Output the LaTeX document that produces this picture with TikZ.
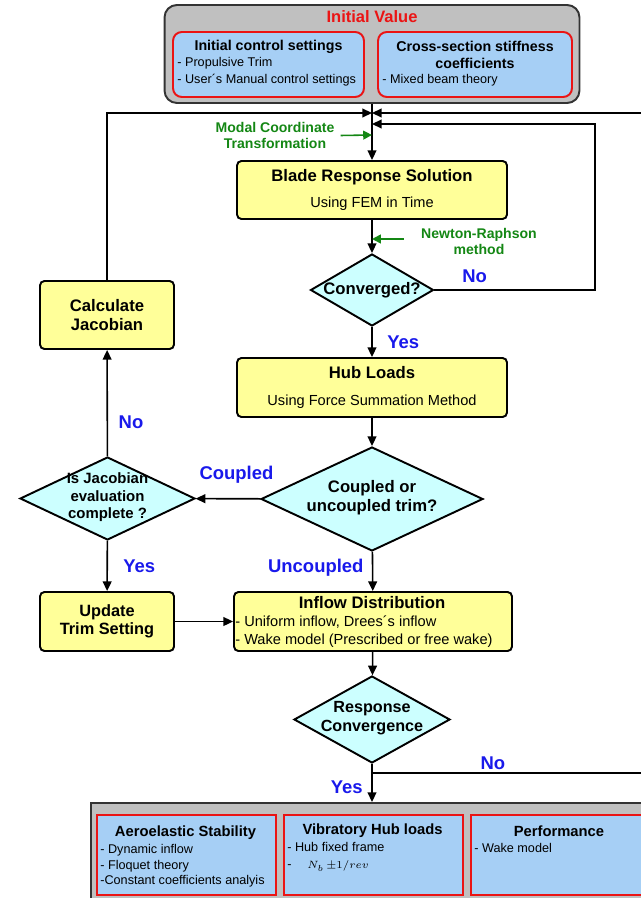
\documentclass[tikz,border=0pt]{standalone}
\usepackage{fontspec}
\setmainfont{Liberation Sans}
\usetikzlibrary{shapes.geometric,arrows.meta}

\definecolor{procyellow}{RGB}{255,255,153}
\definecolor{testcyan}{RGB}{204,255,255}
\definecolor{panelgrey}{RGB}{192,192,192}
\definecolor{itemblue}{RGB}{166,207,245}
\definecolor{framered}{RGB}{235,20,20}
\definecolor{notegreen}{RGB}{20,135,20}
\definecolor{answerblue}{RGB}{25,25,235}

\newcommand{\titlefont}{\bfseries\fontsize{9.5}{11}\selectfont}
\newcommand{\subfont}{\fontsize{8.3}{10}\selectfont}

\begin{document}
\begin{tikzpicture}[x=0.02cm,y=-0.02cm]
    \tikzstyle{process}=[draw=black,line width=1.1pt,fill=procyellow,rounded corners=2.5pt,align=center,inner sep=0pt]
    \tikzstyle{decision}=[draw=black,line width=1.1pt,fill=testcyan,shape=diamond,inner sep=0pt]
    \tikzstyle{panel}=[draw=black!80,line width=1.1pt,fill=panelgrey]
    \tikzstyle{group}=[draw=framered,line width=1.1pt,fill=itemblue]
    \tikzstyle{head}=[font=\titlefont,align=center,inner sep=0pt]
    \tikzstyle{subhead}=[font=\bfseries\fontsize{8.1}{9.6}\selectfont,align=center,inner sep=0pt]
    \tikzstyle{items}=[font=\fontsize{7.2}{9.6}\selectfont,align=left,anchor=west,inner sep=0pt]
    \tikzstyle{answer}=[font=\bfseries\fontsize{10.5}{12}\selectfont,text=answerblue]
    \tikzstyle{note}=[font=\bfseries\fontsize{8}{9.6}\selectfont,text=notegreen,align=center]
    \tikzstyle{flow}=[line width=0.9pt,-{Triangle[length=5.5pt,width=5pt]}]
    \tikzstyle{noteline}=[line width=0.9pt,draw=notegreen,-{Triangle[length=5pt,width=5pt]}]

    \useasboundingbox (0,0) rectangle (641,898);
    \clip (0,0) rectangle (641,898);

    % initial values
    \node[panel,rounded corners=7pt,minimum width=8.3cm,minimum height=1.96cm] at (372,54) (init) {};
    \node[font=\bfseries\fontsize{9.4}{11}\selectfont,text=framered] at (372,17) (inittitle) {Initial Value};
    \node[group,rounded corners=5pt,minimum width=3.82cm,minimum height=1.3cm] at (268.5,64.5) (ctrl) {};
    \node[group,rounded corners=5pt,minimum width=3.88cm,minimum height=1.3cm] at (475,64.5) (stiff) {};
    \node[subhead] at (268.5,47) (ctrltitle) {Initial control settings};
    \node[items] at (177,71.5) (ctrlitems) {- Propulsive Trim\\- User´s Manual control settings};
    \node[subhead] at (475,54.5) (stifftitle) {Cross-section stiffness\\coefficients};
    \node[items] at (382,80) (stiffitems) {- Mixed beam theory};

    % main loop
    \node[process,minimum width=5.4cm,minimum height=1.16cm,font=\subfont] at (372,190) (blade) {{\titlefont Blade Response Solution}\\[5pt]Using FEM in Time};
    \node[decision,minimum width=2.46cm,minimum height=1.44cm] at (372,290) (conv) {};
    \node[head] at (372,290) (convtext) {Converged?};
    \node[process,minimum width=5.4cm,minimum height=1.18cm,font=\subfont] at (372,387.5) (hub) {{\titlefont Hub Loads}\\[5pt]Using Force Summation Method};
    \node[decision,minimum width=4.44cm,minimum height=2.08cm] at (372,499) (trim) {};
    \node[head] at (372,498) (trimtext) {Coupled or\\uncoupled trim?};
    \node[decision,minimum width=3.5cm,minimum height=1.66cm] at (107.5,498.5) (jac) {};
    \node[head,font=\bfseries\fontsize{8.5}{9.9}\selectfont] at (107.5,497.5) (jactext) {Is Jacobian\\evaluation\\complete ?};
    \node[process,minimum width=2.68cm,minimum height=1.36cm,font=\titlefont] at (107,315) (calc) {Calculate\\Jacobian};
    \node[process,minimum width=2.68cm,minimum height=1.18cm,font=\bfseries\fontsize{9.3}{10.3}\selectfont] at (107,621.5) (update) {Update\\Trim Setting};
    \node[process,minimum width=5.56cm,minimum height=1.18cm] at (373,621.5) (inflow) {};
    \node[head] at (372,603) (inflowtitle) {Inflow Distribution};
    \node[items,font=\fontsize{8.3}{10.2}\selectfont] at (235,632) (inflowitems) {- Uniform inflow, Drees´s inflow\\- Wake model (Prescribed or free wake)};
    \node[decision,minimum width=3.12cm,minimum height=1.74cm] at (372,719.5) (resp) {};
    \node[head,font=\bfseries\fontsize{9.2}{10.8}\selectfont] at (372,718.5) (resptext) {Response\\Convergence};

    % results
    \node[panel,anchor=north west,minimum width=12.2cm,minimum height=2.5cm] at (90,802) (results) {};
    \node[group,anchor=north west,minimum width=3.58cm,minimum height=1.6cm] at (96,814) (stab) {};
    \node[group,anchor=north west,minimum width=3.58cm,minimum height=1.6cm] at (283,814) (vib) {};
    \node[group,anchor=north west,minimum width=4cm,minimum height=1.6cm] at (470,814) (perf) {};
    \node[font=\bfseries\fontsize{8.4}{10}\selectfont,inner sep=0pt] at (185.5,833) (stabtitle) {Aeroelastic Stability};
    \node[items,font=\fontsize{7.2}{8.8}\selectfont] at (100,866) (stabitems) {- Dynamic inflow\\- Floquet theory\\-Constant coefficients analyis};
    \node[font=\bfseries\fontsize{8.4}{10}\selectfont,inner sep=0pt] at (372.5,831) (vibtitle) {Vibratory Hub loads};
    \node[items,font=\fontsize{7.2}{9.6}\selectfont] at (287,857) (vibitems) {- Hub fixed frame\\-\hspace{9pt}{\fontsize{6.3}{8}\selectfont$N_b\,{\pm}1/rev$}};
    \node[font=\bfseries\fontsize{8.4}{10}\selectfont,inner sep=0pt] at (559,831) (perftitle) {Performance};
    \node[items] at (474,848) (perfitems) {- Wake model};

    \coordinate (mainin) at (372,113);
    \coordinate (convin) at (372,124);
    \coordinate (convrail) at (595,124);
    \coordinate (farright) at (660,440);
    \coordinate (nojoin) at (372,773);
    \coordinate (mctin) at (372,135);
    \coordinate (nrin) at (372,239);

    \draw[flow] (init) -- (blade);
    \draw[flow] (calc) |- (mainin);
    \draw[flow] (nojoin) -| node[pos=0.21,answer,yshift=5.7pt] {No} (farright) |- (mainin);
    \draw[flow] (conv) -| node[pos=0.125,answer,yshift=8pt] {No} (convrail) -- (convin);
    \draw[flow] (blade) -- (conv);
    \draw[flow] (conv) -- (hub) node[midway,right=4.9pt,answer] {Yes};
    \draw[flow] (hub) -- (trim);
    \draw[flow] (trim) -- (jac) node[pos=0.37,above=4.8pt,answer] {Coupled};
    \draw[flow] (jac) -- (calc) node[pos=0.32,right=2.7pt,answer] {No};
    \draw[flow] (jac) -- (update) node[midway,right=5.4pt,answer] {Yes};
    \draw[flow] (update) -- (inflow);
    \draw[flow] (trim) -- (inflow) node[pos=0.4,left=1.4pt,answer] {Uncoupled};
    \draw[flow] (inflow) -- (resp);
    \draw[flow] (resp) -- (resp |- results.north) node[pos=0.62,left=1.5pt,answer] {Yes};

    % remarks
    \node[note] at (275,135.5) (mct) {Modal Coordinate\\Transformation};
    \draw[noteline] (mct.east) -- (mctin);
    \node[note] at (479,241.5) (nr) {Newton-Raphson\\method};
    \draw[noteline,shorten <=6.5pt] (nr.west |- nrin) -- (nrin);
\end{tikzpicture}
\end{document}
